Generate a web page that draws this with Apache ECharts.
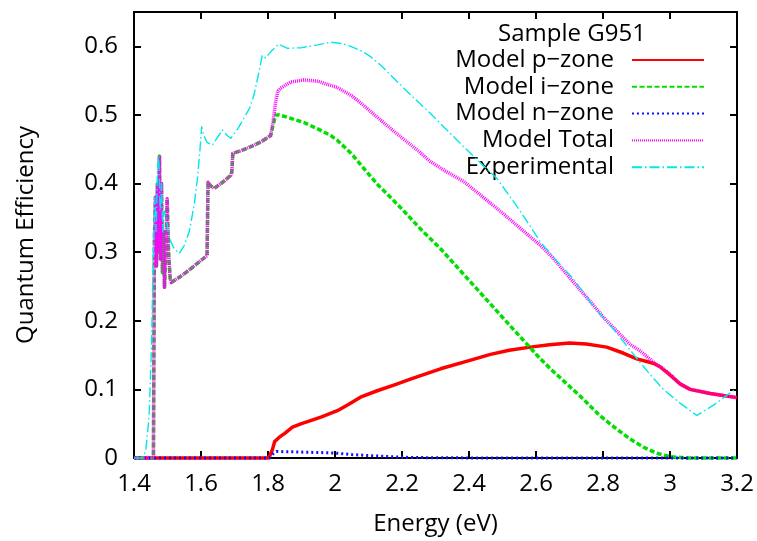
<!DOCTYPE html>
<html>
<head>
<meta charset="utf-8">
<script src="https://cdn.jsdelivr.net/npm/echarts@6/dist/echarts.min.js"></script>
<style>
  html, body { margin: 0; padding: 0; background: #fff; }
  #chart { width: 757px; height: 541px; }
</style>
</head>
<body>
<div id="chart"></div>
<script>
// Quantum efficiency of sample G951 versus photon energy: model components and measurement.

const seriesNames = ['Model p\u2212zone', 'Model i\u2212zone', 'Model n\u2212zone', 'Model Total', 'Experimental'];

const xTicks = [1.4, 1.6, 1.8, 2.0, 2.2, 2.4, 2.6, 2.8, 3.0, 3.2];
const yTicks = [0, 0.1, 0.2, 0.3, 0.4, 0.5, 0.6];

// [energy (eV), quantum efficiency]
const pZone = [
  [1.40, 0], [1.80, 0], [1.805, 0.003], [1.813, 0.012], [1.82, 0.024], [1.833, 0.030],
  [1.85, 0.036], [1.873, 0.045], [1.90, 0.050], [1.927, 0.0545], [1.96, 0.060], [2.007, 0.069],
  [2.04, 0.078], [2.076, 0.0886], [2.126, 0.098], [2.18, 0.107], [2.225, 0.115], [2.315, 0.130],
  [2.40, 0.142], [2.464, 0.151], [2.52, 0.157], [2.583, 0.1616], [2.64, 0.165], [2.70, 0.1675],
  [2.75, 0.166], [2.811, 0.1616], [2.86, 0.153], [2.901, 0.1445], [2.95, 0.138], [2.97, 0.133],
  [3.00, 0.121], [3.03, 0.108], [3.06, 0.100], [3.12, 0.094], [3.20, 0.088]
];

const iZone = [
  [1.40, 0], [1.458, 0], [1.461, 0.32], [1.464, 0.38], [1.467, 0.28], [1.470, 0.40],
  [1.473, 0.30], [1.476, 0.44], [1.479, 0.29], [1.482, 0.40], [1.485, 0.27], [1.488, 0.33],
  [1.491, 0.249], [1.495, 0.30], [1.499, 0.378], [1.503, 0.30], [1.508, 0.262], [1.512, 0.256],
  [1.54, 0.265], [1.57, 0.276], [1.60, 0.288], [1.618, 0.295], [1.621, 0.402], [1.628, 0.397],
  [1.64, 0.393], [1.665, 0.402], [1.689, 0.412], [1.692, 0.417], [1.695, 0.444], [1.72, 0.448],
  [1.75, 0.454], [1.78, 0.461], [1.808, 0.470], [1.815, 0.485], [1.823, 0.500], [1.833, 0.500],
  [1.868, 0.495], [1.907, 0.489], [1.947, 0.480], [1.987, 0.470], [2.007, 0.463], [2.05, 0.443],
  [2.086, 0.422], [2.13, 0.397], [2.186, 0.370], [2.255, 0.334], [2.315, 0.305], [2.414, 0.2515],
  [2.513, 0.198], [2.613, 0.1445], [2.643, 0.130], [2.67, 0.118], [2.741, 0.086], [2.79, 0.062],
  [2.841, 0.042], [2.88, 0.028], [2.92, 0.016], [2.96, 0.007], [3.00, 0.002], [3.05, 0], [3.20, 0]
];

const nZone = [
  [1.40, 0], [1.805, 0], [1.815, 0.006], [1.825, 0.0095], [1.87, 0.009], [1.95, 0.008],
  [2.00, 0.0072], [2.05, 0.005], [2.106, 0.0034], [2.16, 0.002], [2.205, 0.001], [2.30, 0.0003],
  [2.50, 0], [3.20, 0]
];

const modelTotal = [
  [1.40, 0], [1.458, 0], [1.461, 0.32], [1.464, 0.38], [1.467, 0.28], [1.470, 0.40],
  [1.473, 0.30], [1.476, 0.44], [1.479, 0.29], [1.482, 0.40], [1.485, 0.27], [1.488, 0.33],
  [1.491, 0.249], [1.495, 0.30], [1.499, 0.378], [1.503, 0.30], [1.508, 0.262], [1.512, 0.256],
  [1.54, 0.265], [1.57, 0.276], [1.60, 0.288], [1.618, 0.295], [1.621, 0.402], [1.628, 0.397],
  [1.64, 0.393], [1.665, 0.402], [1.689, 0.412], [1.692, 0.417], [1.695, 0.444], [1.72, 0.448],
  [1.75, 0.454], [1.78, 0.461], [1.808, 0.470], [1.815, 0.490], [1.823, 0.520], [1.830, 0.535],
  [1.838, 0.539], [1.868, 0.548], [1.907, 0.551], [1.95, 0.549], [1.987, 0.543], [2.007, 0.540],
  [2.05, 0.528], [2.085, 0.514], [2.13, 0.495], [2.186, 0.472], [2.25, 0.447], [2.285, 0.432],
  [2.33, 0.418], [2.384, 0.403], [2.45, 0.377], [2.50, 0.357], [2.55, 0.336], [2.613, 0.310],
  [2.65, 0.292], [2.70, 0.263], [2.762, 0.228], [2.803, 0.204], [2.831, 0.190], [2.88, 0.166],
  [2.911, 0.156], [2.95, 0.140], [2.98, 0.130], [3.00, 0.122], [3.03, 0.108], [3.06, 0.100],
  [3.12, 0.094], [3.20, 0.088]
];

const experimental = [
  [1.40, 0], [1.425, 0], [1.435, 0.01], [1.445, 0.06], [1.452, 0.16], [1.458, 0.30],
  [1.462, 0.38], [1.466, 0.33], [1.470, 0.42], [1.474, 0.44], [1.478, 0.36], [1.482, 0.40],
  [1.486, 0.33], [1.490, 0.36], [1.496, 0.35], [1.502, 0.33], [1.51, 0.315], [1.52, 0.305],
  [1.535, 0.298], [1.55, 0.31], [1.565, 0.33], [1.58, 0.37], [1.59, 0.41], [1.597, 0.45],
  [1.602, 0.483], [1.608, 0.470], [1.618, 0.460], [1.634, 0.456], [1.65, 0.468], [1.664, 0.478],
  [1.678, 0.470], [1.689, 0.466], [1.71, 0.480], [1.728, 0.495], [1.745, 0.510], [1.758, 0.529],
  [1.772, 0.560], [1.783, 0.587], [1.793, 0.583], [1.81, 0.593], [1.832, 0.603], [1.858, 0.597],
  [1.90, 0.598], [1.947, 0.602], [1.987, 0.606], [2.02, 0.604], [2.047, 0.600], [2.08, 0.593],
  [2.106, 0.585], [2.14, 0.571], [2.166, 0.558], [2.22, 0.532], [2.285, 0.502], [2.33, 0.480],
  [2.384, 0.4536], [2.43, 0.432], [2.484, 0.407], [2.55, 0.362], [2.613, 0.315], [2.66, 0.288],
  [2.712, 0.261], [2.77, 0.222], [2.831, 0.188], [2.901, 0.145], [2.94, 0.122], [2.98, 0.100],
  [3.03, 0.080], [3.08, 0.062], [3.13, 0.077], [3.188, 0.098], [3.20, 0.100]
];

const FONT = '"Open Sans", "Noto Sans", sans-serif';
const fmtX = v => String(+(+v).toFixed(1));
const fmtY = v => String(+(+v).toFixed(2));

const frameLine = { show: true, onZero: false, lineStyle: { color: '#000', width: 2 } };
const innerTick = { show: true, inside: true, length: 7, lineStyle: { color: '#000', width: 2 } };

const X_MIN = xTicks[0], X_MAX = xTicks[xTicks.length - 1], X_STEP = 0.2;
const Y_MIN = yTicks[0], Y_MAX = 0.65, Y_STEP = 0.1;

function lineSeries(name, data, color, width, dash, z) {
  return {
    name, type: 'line', data, showSymbol: false, symbol: 'none', clip: false,
    z, animation: false,
    lineStyle: { color, width, type: dash, cap: 'butt', join: 'round' },
    itemStyle: { color }
  };
}

const chart = echarts.init(document.getElementById('chart'), null, { renderer: 'canvas' });
chart.setOption({
  backgroundColor: '#fff',
  animation: false,
  grid: { left: 134, right: 20, top: 12, bottom: 82 },
  graphic: [{
    type: 'text', x: 572, y: 34,
    style: { text: 'Sample G951', fontFamily: FONT, fontSize: 24, fill: '#000', align: 'center', verticalAlign: 'middle' }
  }],
  legend: {
    data: seriesNames,
    orient: 'vertical', align: 'right',
    right: 52, top: 48, padding: 0,
    itemWidth: 72, itemHeight: 14, itemGap: 2.8,
    // line samples only, no marker in the middle
    itemStyle: { opacity: 0 },
    textStyle: { fontFamily: FONT, fontSize: 24, color: '#000', lineHeight: 20, padding: [0, 13, 0, 0] }
  },
  xAxis: [{
    type: 'value', position: 'bottom', min: X_MIN, max: X_MAX, interval: X_STEP,
    name: 'Energy (eV)', nameLocation: 'middle', nameGap: 54,
    nameTextStyle: { fontFamily: FONT, fontSize: 24, color: '#000' },
    axisLine: frameLine, axisTick: innerTick, splitLine: { show: false },
    axisLabel: { fontFamily: FONT, fontSize: 24, color: '#000', margin: 14, formatter: fmtX }
  }, {
    type: 'value', position: 'top', min: X_MIN, max: X_MAX, interval: X_STEP,
    axisLine: frameLine, axisTick: innerTick, splitLine: { show: false }, axisLabel: { show: false }
  }],
  yAxis: [{
    type: 'value', position: 'left', min: Y_MIN, max: Y_MAX, interval: Y_STEP,
    name: 'Quantum Efficiency', nameLocation: 'middle', nameGap: 96, nameRotate: 90,
    nameTextStyle: { fontFamily: FONT, fontSize: 24, color: '#000' },
    axisLine: frameLine, axisTick: innerTick, splitLine: { show: false },
    axisLabel: { fontFamily: FONT, fontSize: 24, color: '#000', margin: 16, formatter: fmtY, showMaxLabel: false }
  }, {
    type: 'value', position: 'right', min: Y_MIN, max: Y_MAX, interval: Y_STEP,
    axisLine: frameLine, axisTick: innerTick, splitLine: { show: false }, axisLabel: { show: false }
  }],
  series: [
    lineSeries(seriesNames[0], pZone, '#ff0000', 3.5, 'solid', 3),
    lineSeries(seriesNames[1], iZone, '#00e000', 3.5, [5, 2.5], 4),
    lineSeries(seriesNames[2], nZone, '#1010ff', 3, [2, 3], 5),
    lineSeries(seriesNames[3], modelTotal, '#ff00ff', 3.5, [1, 1], 6),
    lineSeries(seriesNames[4], experimental, '#00e8e8', 1.4, [10, 3, 1.5, 3], 7)
  ]
});
</script>
</body>
</html>
